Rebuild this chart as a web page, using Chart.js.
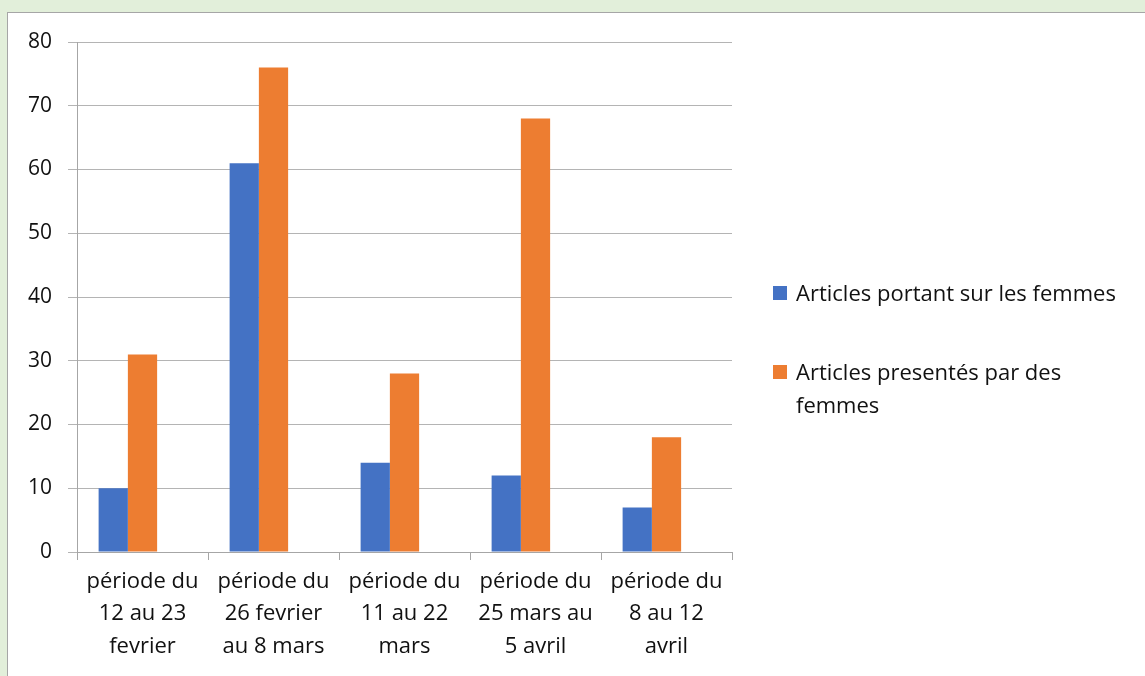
<!DOCTYPE html>
<html>
<head>
<meta charset="utf-8">
<script src="https://cdn.jsdelivr.net/npm/chart.js@4"></script>
<style>
  html, body { margin: 0; padding: 0; }
  body { width: 1145px; height: 676px; background: #e2efda; overflow: hidden; position: relative; font-family: "Open Sans", sans-serif; }
  #box { position: absolute; left: 7px; top: 12px; width: 1200px; height: 720px; background: #fff; border: 1px solid #a6a6a6; }
  #wrap { position: absolute; left: 0; top: 0; width: 1145px; height: 676px; }
  #legend { position: absolute; left: 773px; top: 276px; width: 372px; font-size: 22px; color: #111; }
  .item { position: relative; padding-left: 23px; line-height: 33px; margin-bottom: 46px; }
  .sw { position: absolute; left: 0; top: 10px; width: 14px; height: 14px; }
</style>
</head>
<body>
<div id="box"></div>
<div id="wrap"><canvas id="myChart" width="1145" height="676"></canvas></div>
<div id="legend"></div>
<script>
var categories = [
    ["période du", "12 au 23", "fevrier"],
    ["période du", "26 fevrier", "au 8 mars"],
    ["période du", "11 au 22", "mars"],
    ["période du", "25 mars au", "5 avril"],
    ["période du", "8 au 12", "avril"]
];
var seriesNames = ["Articles portant sur les femmes", "Articles presentés par des femmes"];
var surFemmes = [10, 61, 14, 12, 7];
var parFemmes = [31, 76, 28, 68, 18];
var yTicks = [0, 10, 20, 30, 40, 50, 60, 70, 80];
var colors = ['#4472c4', '#ed7d31'];

// legend (html so the long label can wrap like the original)
var html = "";
for (var k = 0; k < seriesNames.length; k++) {
    html += '<div class="item"><span class="sw" style="background:' + colors[k] + '"></span>' + seriesNames[k] + '</div>';
}
document.getElementById("legend").innerHTML = html;

var ctx = document.getElementById('myChart').getContext('2d');
var chart = new Chart(ctx, {
    type: 'bar',
    data: {
        labels: categories,
        datasets: [{
            label: seriesNames[0],
            backgroundColor: colors[0],
            data: surFemmes
        }, {
            label: seriesNames[1],
            backgroundColor: colors[1],
            data: parFemmes
        }, {
            // empty third slot, the original leaves room for it
            label: "",
            data: []
        }]
    },
    options: {
        responsive: false,
        animation: false,
        layout: { padding: { left: 0, top: 42, right: 413, bottom: 0 } },
        plugins: { legend: { display: false }, tooltip: { enabled: false } },
        datasets: { bar: { categoryPercentage: 0.67, barPercentage: 1 } },
        scales: {
            x: {
                offset: true,
                grid: { offset: true, drawOnChartArea: false, color: '#a6a6a6', tickLength: 8 },
                border: { color: '#a6a6a6' },
                ticks: {
                    color: '#111',
                    padding: 6,
                    maxRotation: 0,
                    autoSkip: false,
                    font: { family: 'Open Sans', size: 22, lineHeight: 1.46 }
                },
                afterFit: function (s) { s.height = 124; }
            },
            y: {
                min: 0,
                max: 80,
                afterBuildTicks: function (s) { s.ticks = yTicks.map(function (v) { return { value: v }; }); },
                grid: { color: '#b4b4b4', tickLength: 9 },
                border: { color: '#a6a6a6' },
                ticks: {
                    color: '#111',
                    padding: 16,
                    font: { family: 'Open Sans', size: 21 }
                },
                afterFit: function (s) { s.width = 77; }
            }
        }
    }
});
</script>
</body>
</html>
